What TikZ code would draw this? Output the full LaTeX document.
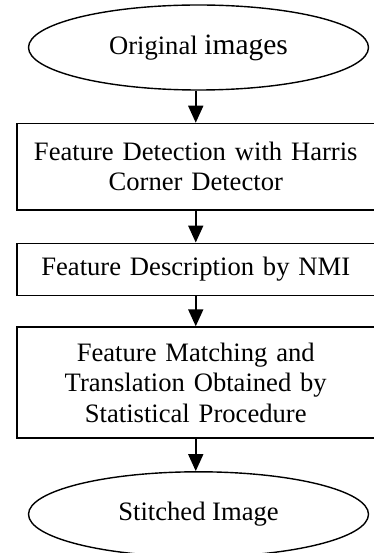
\documentclass[tikz,border=0pt]{standalone}
\usepackage{fontspec}
\setmainfont{Liberation Serif}
\tikzstyle{every node}+=[inner sep=0pt,font=\fontsize{26.6}{30.5}\selectfont]
\tikzstyle{terminal}=[draw,ellipse,line width=1.4pt,minimum width=340pt,minimum height=85pt]
\tikzstyle{stepbox}=[draw,rectangle,line width=1.8pt,minimum width=357.5pt,text width=340pt,align=center]
\tikzstyle{flow}=[line width=1.8pt,-{Triangle[width=15pt,length=17pt]}]
\usetikzlibrary{shapes.geometric,positioning,arrows.meta}

\begin{document}
\begin{tikzpicture}
\useasboundingbox (0,0) rectangle (373pt,-553pt);
\node[terminal] (orig) at (198.5pt,-47.5pt) {Original {\fontsize{29.5}{30.5}\selectfont images}};
\node[stepbox,minimum height=86pt,below=32pt of orig,xshift=-2.75pt] (detect) {Feature Detection with Harris\\Corner Detector};
\node[stepbox,minimum height=52pt,below=32pt of detect] (describe) {Feature Description by NMI};
\node[stepbox,minimum height=111pt,below=30pt of describe] (match) {Feature Matching and\\Translation Obtained by\\Statistical Procedure};
\node[terminal,below=32pt of match,xshift=2.75pt] (stitched) {Stitched Image};

\draw[flow] (detect.north |- orig.south) -- (detect.north);
\draw[flow] (detect) -- (describe);
\draw[flow] (describe) -- (match);
\draw[flow] (match.south) -- (match.south |- stitched.north);
\end{tikzpicture}
\end{document}
